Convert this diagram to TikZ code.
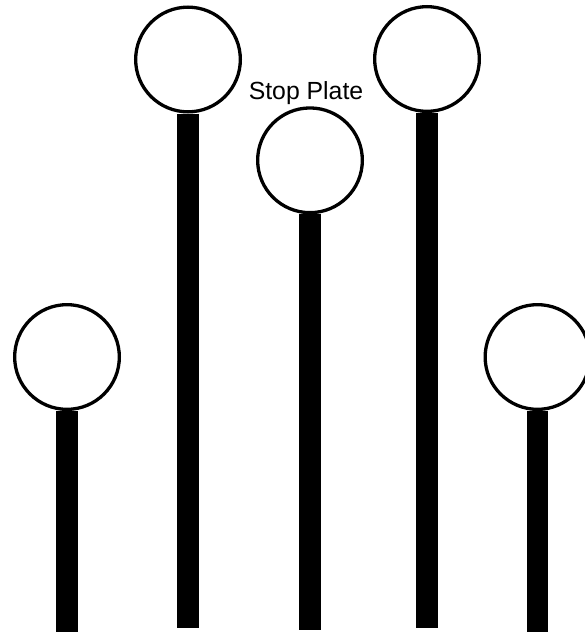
\documentclass[tikz,border=0pt]{standalone}
\usepackage{fontspec}
\setmainfont{Liberation Sans}
\begin{document}
\begin{tikzpicture}[x=1pt,y=-1pt,
  head/.style={circle, draw=black, fill=white, line width=3.3pt, minimum size=104.7pt, inner sep=0pt},
  stem/.style={line width=21.5pt, line cap=butt, draw=black}]
\useasboundingbox (0,0) rectangle (584,632);
\node[head] (c1) at (67,357) {};
\node[head] (c2) at (188,59.5) {};
\node[head] (c3) at (310,160.3) {};
\node[head] (c4) at (427,59) {};
\node[head] (c5) at (537.5,357) {};
\coordinate (b1) at (67,632);
\coordinate (b2) at (188,628);
\coordinate (b3) at (310,630);
\coordinate (b4) at (427,628);
\coordinate (b5) at (537.5,632);
\draw[stem] (c1.south) -- (b1);
\draw[stem] (c2.south) -- (b2);
\draw[stem] (c3.south) -- (b3);
\draw[stem] (c4.south) -- (b4);
\draw[stem] (c5.south) -- (b5);
\node[anchor=base, inner sep=0pt, font=\fontsize{24.8}{29}\selectfont] (label) at (306,99.3) {Stop Plate};
\end{tikzpicture}
\end{document}
